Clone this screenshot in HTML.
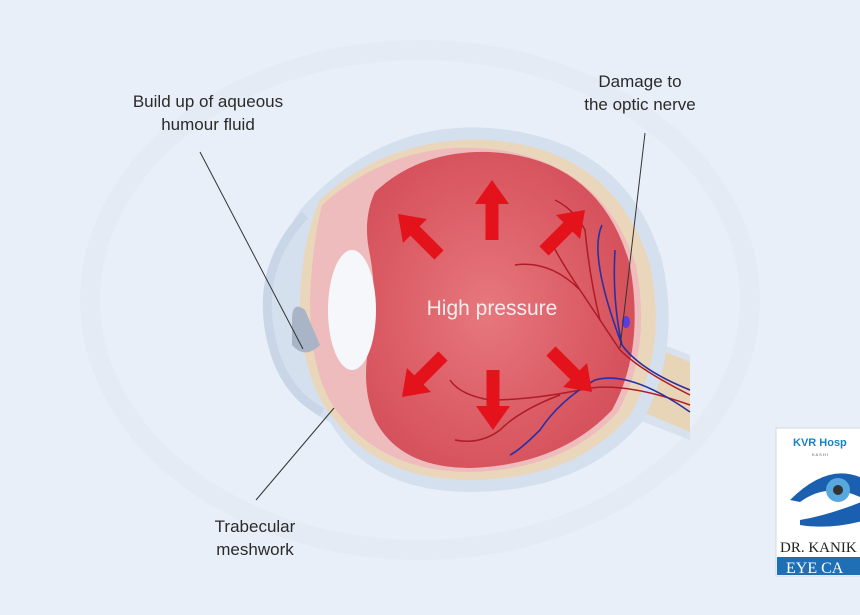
<!DOCTYPE html>
<html><head><style>
html,body{margin:0;padding:0;background:#e8eef8;}
svg{display:block}
</style></head><body>
<svg width="860" height="615" viewBox="0 0 860 615" xmlns="http://www.w3.org/2000/svg" font-family="Liberation Sans, sans-serif">
<defs>
<radialGradient id="vg" cx="0.45" cy="0.5" r="0.6">
<stop offset="0" stop-color="#e6787d"/><stop offset="0.6" stop-color="#dc5d66"/><stop offset="1" stop-color="#d34e59"/>
</radialGradient>
</defs>
<rect width="860" height="615" fill="#e9eff8"/>
<ellipse cx="420" cy="300" rx="330" ry="250" fill="none" stroke="#e5ebf5" stroke-width="20"/>
<!-- optic nerve -->
<path d="M600 320 L690 355 L690 440 L600 405 Z" fill="#d8e2ef"/>
<path d="M610 330 L690 362 L690 432 L610 398 Z" fill="#e8d4b6"/>
<!-- outer light blue layer -->
<path d="M300 210 Q380 120 490 128 Q625 138 662 260 Q682 350 642 422 Q582 492 470 492 Q370 492 330 422 Q280 400 266 320 Q273 250 300 210Z" fill="#d5e0ee"/>
<path d="M305 215 Q262 260 268 320 Q276 388 322 412" fill="none" stroke="#c9d6e8" stroke-width="9"/>
<!-- sclera tan -->
<path d="M320 200 Q390 135 490 140 Q615 150 650 265 Q668 350 630 415 Q575 480 470 480 Q380 480 335 420 Q300 380 300 300 Q302 240 320 200Z" fill="#ead6ba"/>
<!-- choroid pink -->
<path d="M322 205 Q392 143 480 148 Q600 156 636 265 Q652 350 618 412 Q565 470 470 472 Q385 472 340 415 Q310 380 310 300 Q312 245 322 205Z" fill="#eebcbc"/>
<!-- vitreous -->
<path d="M375 192 Q420 150 490 152 Q600 158 630 265 Q645 350 612 410 Q560 465 470 468 Q400 468 375 420 Q360 385 370 340 Q378 300 370 255 Q362 220 375 192Z" fill="url(#vg)"/>
<!-- lens -->
<ellipse cx="352" cy="310" rx="24" ry="60" fill="#f5f7fb"/>
<!-- iris -->
<path d="M292 320 Q292 300 305 310 L320 345 Q305 360 292 345Z" fill="#a9b5c6"/>
<!-- vessels -->
<g fill="none" stroke="#b01c25" stroke-width="1.5">
<path d="M690 395 Q640 370 620 350 Q600 320 580 290 Q560 260 550 240"/>
<path d="M580 290 Q550 260 515 265"/>
<path d="M600 320 Q590 280 585 230 Q575 210 555 200"/>
<path d="M690 405 Q620 380 580 390 Q530 400 490 400 Q460 395 450 380"/>
<path d="M560 395 Q520 410 500 430 Q480 445 455 440"/>
</g>
<g fill="none" stroke="#2b2fa0" stroke-width="1.6">
<path d="M690 390 Q640 370 622 345 Q605 300 600 270 Q595 240 602 225"/>
<path d="M622 345 Q612 300 615 250"/>
<path d="M690 412 Q630 370 595 380 Q560 400 540 430 Q520 450 510 455"/>
</g>
<ellipse cx="626" cy="322" rx="4" ry="6" fill="#5a3fe0"/>
<!-- arrows -->
<g fill="#e3121b">
<g transform="translate(492,180)"><polygon points="0,0 -17,24 -6.5,24 -6.5,60 6.5,60 6.5,24 17,24"/></g>
<g transform="translate(398,214) rotate(-45)"><polygon points="0,0 -17,24 -6.5,24 -6.5,58 6.5,58 6.5,24 17,24"/></g>
<g transform="translate(585,210) rotate(45)"><polygon points="0,0 -17,24 -6.5,24 -6.5,58 6.5,58 6.5,24 17,24"/></g>
<g transform="translate(402,397) rotate(-135)"><polygon points="0,0 -17,24 -6.5,24 -6.5,58 6.5,58 6.5,24 17,24"/></g>
<g transform="translate(493,430) rotate(180)"><polygon points="0,0 -17,24 -6.5,24 -6.5,60 6.5,60 6.5,24 17,24"/></g>
<g transform="translate(592,392) rotate(135)"><polygon points="0,0 -17,24 -6.5,24 -6.5,58 6.5,58 6.5,24 17,24"/></g>
</g>
<text x="492" y="315" font-size="21" fill="#f6ecec" text-anchor="middle">High pressure</text>
<!-- leader lines -->
<line x1="200" y1="152" x2="303" y2="349" stroke="#333" stroke-width="1"/>
<line x1="256" y1="500" x2="334" y2="408" stroke="#333" stroke-width="1"/>
<line x1="645" y1="133" x2="620" y2="348" stroke="#333" stroke-width="1"/>
<g font-size="17" fill="#2a2a2a" text-anchor="middle">
<text x="208" y="107">Build up of aqueous</text>
<text x="208" y="130">humour fluid</text>
<text x="640" y="87">Damage to</text>
<text x="640" y="110">the optic nerve</text>
<text x="255" y="532">Trabecular</text>
<text x="255" y="555">meshwork</text>
</g>
<!-- logo -->
<rect x="776" y="428" width="90" height="148" fill="#fff" stroke="#cfd8e4"/>
<text x="793" y="446" font-size="11" font-weight="bold" fill="#1a7fc4">KVR Hosp</text>
<text x="812" y="456" font-size="4" fill="#555">K A S H I</text>
<path d="M790 500 Q830 460 866 480 L866 500 Q830 480 800 502Z" fill="#1a5fb0"/>
<circle cx="838" cy="490" r="12" fill="#58a8e0"/><circle cx="838" cy="490" r="5" fill="#333"/>
<path d="M800 520 Q830 515 866 500 L866 520 Q830 530 800 525Z" fill="#1a5fb0"/>
<text x="780" y="552" font-size="15" font-family="Liberation Serif, serif" fill="#222">DR. KANIK</text>
<rect x="777" y="557" width="89" height="18" fill="#1e6fb5"/>
<text x="786" y="573" font-size="16" font-family="Liberation Serif, serif" fill="#fff">EYE CA</text>
</svg>
</body></html>
